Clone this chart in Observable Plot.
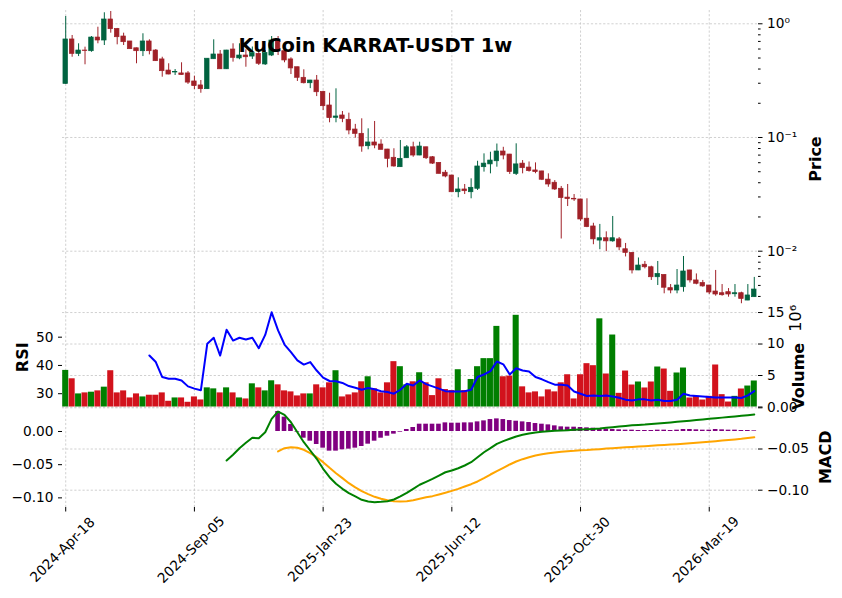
<!DOCTYPE html>
<html>
<head>
<meta charset="utf-8">
<script src="https://cdn.jsdelivr.net/npm/d3@7"></script>
<script src="https://cdn.jsdelivr.net/npm/@observablehq/plot@0.6"></script>
<style>
  html, body { margin: 0; padding: 0; background: #fff; }
  #chart { position: relative; width: 842px; height: 598px; overflow: hidden; font-family: "DejaVu Sans", sans-serif; background:#fff; }
  #chart svg { position: absolute; left: 0; top: 0; max-width: none !important; }
  #title { position: absolute; left: 0; width: 751px; top: 35px; text-align: center; font-weight: bold; font-size: 19.5px; line-height: 22px; color: #000; white-space: nowrap; z-index: 10; font-family: "DejaVu Sans", sans-serif; }
</style>
</head>
<body>
<div id="chart"><div id="title">KuCoin KARRAT-USDT 1w</div></div>
<script>
// ---------- DATA (weekly candles, index 0 = 2024-Apr-18) ----------
const open = [0.296,0.728,0.544,0.582,0.574,0.757,0.713,1.091,0.900,0.773,
0.699,0.609,0.574,0.699,0.582,0.486,0.388,0.373,0.366,0.366,
0.311,0.287,0.266,0.488,0.537,0.398,0.594,0.496,0.526,0.515,
0.544,0.439,0.526,0.703,0.574,0.486,0.415,0.335,0.300,0.317,
0.252,0.1912,0.149,0.1562,0.1431,0.1175,0.1077,0.0838,0.0904,0.0867,
0.0784,0.0663,0.0548,0.0657,0.0820,0.0694,0.0820,0.0670,0.0598,0.0490,
0.0463,0.0330,0.0349,0.0330,0.0354,0.0548,0.0580,0.0618,0.0753,0.0708,
0.0479,0.0589,0.0544,0.0513,0.0503,0.0426,0.0400,0.0354,0.0296,0.0289,
0.0285,0.0193,0.0165,0.0124,0.0130,0.0122,0.0127,0.0104,0.00966,0.00677,
0.00760,0.00722,0.00590,0.00618,0.00473,0.00451,0.00482,0.00677,0.00553,0.00525,
0.00499,0.00442,0.00427,0.00436,0.00418,0.00427,0.00368,0.00394];

const high = [1.159,0.789,0.667,0.623,0.773,0.933,1.250,1.283,0.910,0.827,
0.700,0.612,0.817,0.723,0.594,0.508,0.445,0.396,0.454,0.380,
0.346,0.317,0.495,0.723,0.582,0.584,0.667,0.667,0.590,0.625,
0.582,0.582,0.773,0.773,0.619,0.502,0.415,0.394,0.318,0.351,
0.255,0.245,0.268,0.1693,0.1637,0.1304,0.146,0.1192,0.1383,0.0954,
0.0786,0.0796,0.0941,0.0850,0.0909,0.0909,0.0822,0.0680,0.0600,0.0513,
0.0465,0.0442,0.0386,0.0433,0.0618,0.0718,0.0742,0.0876,0.0820,0.0710,
0.0880,0.0627,0.0609,0.0598,0.0505,0.0479,0.0418,0.0371,0.0386,0.0315,
0.0286,0.0289,0.0176,0.0172,0.0148,0.0202,0.0132,0.0117,0.0097,0.00872,
0.00812,0.00738,0.00812,0.0062,0.00509,0.00690,0.00898,0.0068,0.00631,0.00553,
0.0050,0.00677,0.00509,0.00469,0.00509,0.00436,0.00509,0.00588];

const low = [0.294,0.508,0.515,0.436,0.562,0.667,0.644,0.827,0.653,0.644,
0.595,0.445,0.515,0.533,0.466,0.339,0.356,0.351,0.353,0.293,
0.264,0.245,0.265,0.487,0.397,0.397,0.460,0.483,0.415,0.486,
0.430,0.430,0.515,0.526,0.454,0.358,0.311,0.296,0.269,0.229,
0.1728,0.1347,0.1347,0.135,0.1056,0.0986,0.0742,0.0779,0.0796,0.0779,
0.0541,0.0548,0.0546,0.0655,0.0670,0.0692,0.0640,0.0580,0.0478,0.0442,
0.0329,0.0295,0.0315,0.0289,0.0342,0.0496,0.0479,0.0548,0.0636,0.0473,
0.0463,0.0479,0.0496,0.0480,0.0418,0.0365,0.0342,0.0128,0.0247,0.0274,
0.0183,0.0161,0.0114,0.0103,0.0099,0.0120,0.0101,0.00890,0.00631,0.00675,
0.00699,0.00553,0.00499,0.00422,0.00422,0.00422,0.00436,0.00525,0.00506,0.00482,
0.00416,0.00402,0.00402,0.00394,0.00394,0.00345,0.00367,0.00393];

const close = [0.728,0.544,0.582,0.576,0.757,0.713,1.091,0.897,0.762,0.689,
0.598,0.574,0.699,0.574,0.469,0.383,0.358,0.376,0.354,0.304,
0.283,0.266,0.493,0.537,0.398,0.582,0.502,0.526,0.508,0.552,
0.445,0.552,0.713,0.574,0.476,0.405,0.335,0.300,0.317,0.250,
0.1885,0.148,0.153,0.146,0.1152,0.1077,0.0833,0.0904,0.0850,0.0779,
0.0649,0.0556,0.0649,0.0820,0.0694,0.0833,0.0657,0.0589,0.0479,0.0454,
0.0330,0.0349,0.0337,0.0361,0.0556,0.0589,0.0627,0.0753,0.0694,0.0496,
0.0580,0.0537,0.0506,0.0496,0.0425,0.0386,0.0349,0.0293,0.0287,0.0285,
0.0190,0.0163,0.0127,0.0130,0.0122,0.0130,0.0108,0.00966,0.00677,0.00748,
0.00722,0.00590,0.00631,0.00477,0.00451,0.00499,0.00663,0.00553,0.00517,0.00490,
0.00433,0.00416,0.00410,0.00416,0.00427,0.00380,0.00408,0.00460];

// volume in millions
const volumeM = [5.81,4.48,2.08,2.24,2.35,2.56,3.15,5.76,2.24,2.56,
1.44,2.08,1.60,1.87,1.87,2.24,0.91,1.44,1.44,0.75,
1.60,1.12,3.04,2.88,2.24,3.04,2.24,1.44,1.28,3.68,
3.04,2.56,4.16,3.52,2.56,2.40,1.76,2.08,2.08,3.52,
3.04,3.84,5.76,1.60,1.92,2.24,4.00,4.80,2.88,2.24,
3.84,7.20,6.40,3.52,4.00,5.44,3.84,1.81,4.48,2.77,
2.61,5.92,2.61,4.37,6.40,7.68,7.68,12.8,4.80,4.91,
14.56,3.20,2.24,2.40,1.60,2.72,2.40,3.84,5.12,1.28,
5.12,6.88,6.56,14.0,5.24,11.43,2.17,5.71,3.49,3.97,
3.02,3.97,6.35,6.03,2.49,5.40,6.19,1.43,1.69,1.11,
1.69,6.67,1.96,0.79,1.69,2.86,3.33,4.13];

const rsiStart = 13;
const rsi = [43.5,41.2,35.9,35.3,35.3,34.7,32.6,31.8,31.2,47.7,
49.8,43.5,52.6,48.8,49.8,49.2,49.8,46.1,50.8,58.8,
52.4,47.4,44.7,41.8,40.3,41.2,38.2,35.7,34.5,34.4,
33.8,32.7,32.1,31.4,32.0,31.6,30.9,30.6,30.0,31.4,
33.5,32.9,34.7,33.4,32.6,31.8,30.9,30.8,30.8,30.9,
31.4,35.9,36.8,38.0,41.4,40.4,36.8,39.0,38.2,37.9,
35.9,35.1,34.1,33.2,33.2,32.9,30.8,30.0,29.2,29.4,
29.2,29.4,29.0,28.6,27.9,27.6,28.0,28.0,27.6,27.9,
27.4,27.4,27.9,30.0,29.4,29.2,29.0,28.8,28.7,28.7,
28.7,28.7,28.5,29.4,30.9];

const macdStart = 25;
const macd = [-0.064,-0.057,-0.049,-0.0425,-0.0364,-0.0369,-0.0296,-0.0134,-0.0045,-0.0085,
-0.0175,-0.0296,-0.0417,-0.0518,-0.0619,-0.0740,-0.0842,-0.0922,-0.0983,-0.1036,
-0.1076,-0.1117,-0.1137,-0.1146,-0.1141,-0.1133,-0.1113,-0.1076,-0.1032,-0.0983,
-0.0934,-0.0898,-0.0862,-0.0822,-0.0782,-0.0761,-0.0733,-0.0700,-0.0660,-0.0600,
-0.0539,-0.0490,-0.0437,-0.0405,-0.0376,-0.0348,-0.0328,-0.0312,-0.0300,-0.0291,
-0.0284,-0.0279,-0.0275,-0.0272,-0.0267,-0.0263,-0.0260,-0.0256,-0.0251,-0.0243,
-0.0235,-0.0227,-0.0220,-0.0213,-0.0208,-0.0203,-0.0196,-0.0190,-0.0183,-0.0177,
-0.0170,-0.0163,-0.0156,-0.0149,-0.0141,-0.0134,-0.0127,-0.0119,-0.0112,-0.0105,
-0.0097,-0.0089,-0.0081];

const sigStart = 33;
const signal = [-0.0301,-0.0251,-0.0236,-0.0246,-0.0276,-0.0326,-0.0387,-0.0462,-0.0547,-0.0628,
-0.0703,-0.0779,-0.0843,-0.0899,-0.0944,-0.0984,-0.1014,-0.1035,-0.1050,-0.1054,
-0.1050,-0.1035,-0.1014,-0.0992,-0.0974,-0.0949,-0.0924,-0.0894,-0.0864,-0.0828,
-0.0794,-0.0753,-0.0703,-0.0648,-0.0598,-0.0547,-0.0497,-0.0452,-0.0417,-0.0387,
-0.0361,-0.0342,-0.0327,-0.0316,-0.0306,-0.0297,-0.0291,-0.0281,-0.0278,-0.0272,
-0.0266,-0.0258,-0.0251,-0.0245,-0.0239,-0.0233,-0.0227,-0.0221,-0.0215,-0.0209,
-0.0203,-0.0197,-0.0191,-0.0184,-0.0177,-0.0170,-0.0163,-0.0155,-0.0146,-0.0137,
-0.0128,-0.0119,-0.0110,-0.0098,-0.0086];

const hist = [0.0301,0.0216,0.0105,-0.0010,-0.0101,-0.0146,-0.0196,-0.0251,-0.0296,-0.0296,
-0.0276,-0.0266,-0.0251,-0.0226,-0.0191,-0.0146,-0.0101,-0.0071,-0.0040,-0.0010,
0.0030,0.0060,0.0110,0.0110,0.0110,0.0110,0.0130,0.0125,0.0125,0.0130,
0.0130,0.0145,0.0160,0.0180,0.0190,0.0180,0.0165,0.0155,0.0145,0.0135,
0.0120,0.0110,0.0100,0.0085,0.0070,0.0065,0.0065,0.0060,0.0055,0.0050,
0.0040,0.0035,0.0030,0.0025,0.0020,0.0020,0.0015,0.0015,0.0015,0.0020,
0.0020,0.0015,0.0020,0.0030,0.0030,0.0025,0.0020,0.0020,0.0030,0.0025,
0.0020,0.0020,0.0015,0.0015,0.0010];

const xTickIdx = [0, 20, 40, 60, 80, 100];
const xTickLabels = ["2024-Apr-18","2024-Sep-05","2025-Jan-23","2025-Jun-12","2025-Oct-30","2026-Mar-19"];
const priceMajor = [1, 0.1, 0.01];
const priceTickText = ["10\u2070", "10\u207b\u00b9", "10\u207b\u00b2"];
const priceMinor = [0.004,0.005,0.006,0.007,0.008,0.009,0.02,0.03,0.04,0.05,0.06,0.07,0.08,0.09,0.2,0.3,0.4,0.5,0.6,0.7,0.8,0.9];
const volTicks = [0, 5, 10, 15];
const volTickText = ["", "5", "10", "15"];
const rsiTicks = [30, 40, 50];
const macdTicks = [0, -0.05, -0.10];
const macdTickText = ["0.00", "\u22120.05", "\u22120.10"];

// ---------- STYLE ----------
const UP = "#006340", DOWN = "#a02128";
const VUP = "#007f00", VDOWN = "#d2121c";
const W = 842, H = 598, ML = 62, MR = 85;
const P_TOP = 10, P_BOT = 307, V_TOP = 307, V_BOT = 406.5, M_TOP = 406.5, M_BOT = 507;
const grid = {stroke: "#c4c4c4", strokeWidth: 0.8, strokeDasharray: "2.2,1.9"};
const labelFont = {fontWeight: "bold", fontSize: 16, textAnchor: "middle", rotate: -90, lineAnchor: "bottom"};

const candles = open.map((o, i) => ({
  i, open: o, high: high[i], low: low[i], close: close[i], vol: volumeM[i],
  col: close[i] >= o ? UP : DOWN, vcol: close[i] >= o ? VUP : VDOWN
}));
const rsiData = rsi.map((v, k) => ({i: rsiStart + k, v}));
const macdData = macd.map((v, k) => ({i: macdStart + k, v}));
const sigData = signal.map((v, k) => ({i: sigStart + k, v}));
const histData = hist.map((v, k) => ({i: sigStart + k, v}));
const xTicks = xTickIdx.map((i, k) => ({i, label: xTickLabels[k]}));

const base = (top, bottom) => ({
  width: W, height: H, marginLeft: ML, marginRight: MR, marginTop: top, marginBottom: H - bottom,
  x: {type: "linear", domain: [-0.5, 107.5], axis: null},
  color: {type: "identity"},
  style: {fontFamily: "'DejaVu Sans', sans-serif", fontSize: "13.7px", background: "transparent", color: "#000", overflow: "visible"}
});

// ---------- PRICE PANEL ----------
const pricePlot = Plot.plot({
  ...base(P_TOP, P_BOT),
  y: {type: "log", domain: [0.003197, 1.309], axis: null, label: null},
  marks: [
    Plot.ruleY(priceMajor, grid),
    Plot.ruleX(xTickIdx, grid),
    Plot.axisY({anchor: "right", ticks: priceMajor, tickFormat: d => priceTickText[priceMajor.indexOf(d)], tickSize: 4.5, tickPadding: 5, label: null}),
    Plot.axisY({anchor: "right", ticks: priceMinor, tickFormat: () => "", tickSize: 2.6, label: null}),
    Plot.ruleX(candles, {x: "i", y1: "low", y2: "high", stroke: "col", strokeWidth: 1}),
    Plot.rect(candles, {x1: d => d.i - 0.35, x2: d => d.i + 0.35, y1: "open", y2: "close", fill: "col", stroke: "col", strokeWidth: 0.7}),
    Plot.text(["Price"], {text: d => d, frameAnchor: "right", dx: 63, ...labelFont})
  ]
});

// ---------- VOLUME (primary of lower panel) ----------
const volPlot = Plot.plot({
  ...base(V_TOP, V_BOT),
  y: {domain: [0, 15.8], axis: null, label: null},
  marks: [
    Plot.ruleY(volTicks, grid),
    Plot.ruleX(xTickIdx, grid),
    Plot.axisY({anchor: "right", ticks: volTicks, tickFormat: d => volTickText[volTicks.indexOf(d)], tickSize: 4.5, tickPadding: 5, label: null}),
    Plot.rect(candles, {x1: d => d.i - 0.47, x2: d => d.i + 0.47, y1: 0, y2: "vol", fill: "vcol"}),
    Plot.text(["Volume"], {text: d => d, frameAnchor: "right", dx: 46, dy: 19, ...labelFont}),
    Plot.text(["10\u2076"], {text: d => d, frameAnchor: "right", dx: 43, dy: -39, ...labelFont, fontWeight: "normal"})
  ]
});

// ---------- RSI (secondary, left) ----------
const rsiPlot = Plot.plot({
  ...base(V_TOP, V_BOT),
  y: {domain: [25.3, 60.5], axis: null, label: null},
  marks: [
    Plot.axisY({anchor: "left", ticks: rsiTicks, tickSize: 4, tickPadding: 5, label: null}),
    Plot.line(rsiData, {x: "i", y: "v", stroke: "#0000ff", strokeWidth: 2}),
    Plot.text(["RSI"], {text: d => d, frameAnchor: "left", dx: -35, ...labelFont})
  ]
});

// ---------- MACD panel: grid, right axis, x axis ----------
const macdAxisPlot = Plot.plot({
  ...base(M_TOP, M_BOT),
  y: {domain: [-0.121, 0.001], axis: null, label: null},
  marks: [
    Plot.ruleY(macdTicks, grid),
    Plot.ruleX(xTickIdx, grid),
    Plot.axisY({anchor: "right", ticks: macdTicks, tickFormat: d => macdTickText[macdTicks.indexOf(d)], tickSize: 4.5, tickPadding: 5, label: null}),
    Plot.axisX({anchor: "bottom", ticks: xTickIdx, tickFormat: () => "", tickSize: 4.5, label: null}),
    Plot.text(xTicks, {x: "i", text: "label", frameAnchor: "bottom", dy: 45.5, rotate: -45, textAnchor: "middle"}),
    Plot.text(["MACD"], {text: d => d, frameAnchor: "right", dx: 73, ...labelFont})
  ]
});

// ---------- histogram + signal (secondary, left axis) ----------
const histPlot = Plot.plot({
  ...base(M_TOP, M_BOT),
  y: {domain: [-0.1145, 0.0369], axis: null, label: null},
  marks: [
    Plot.axisY({anchor: "left", ticks: macdTicks, tickFormat: d => macdTickText[macdTicks.indexOf(d)], tickSize: 4, tickPadding: 5, label: null}),
    Plot.rect(histData, {x1: d => d.i - 0.36, x2: d => d.i + 0.36, y1: 0, y2: "v", fill: "#800080"}),
    Plot.line(sigData, {x: "i", y: "v", stroke: "#ffa500", strokeWidth: 2})
  ]
});

// ---------- MACD line (primary, right axis) ----------
const macdLinePlot = Plot.plot({
  ...base(M_TOP, M_BOT),
  y: {domain: [-0.121, 0.001], axis: null, label: null},
  marks: [
    Plot.line(macdData, {x: "i", y: "v", stroke: "#008000", strokeWidth: 2})
  ]
});

const chart = document.getElementById("chart");
[pricePlot, volPlot, rsiPlot, macdAxisPlot, histPlot, macdLinePlot].forEach(p => chart.appendChild(p));
</script>
</body>
</html>
